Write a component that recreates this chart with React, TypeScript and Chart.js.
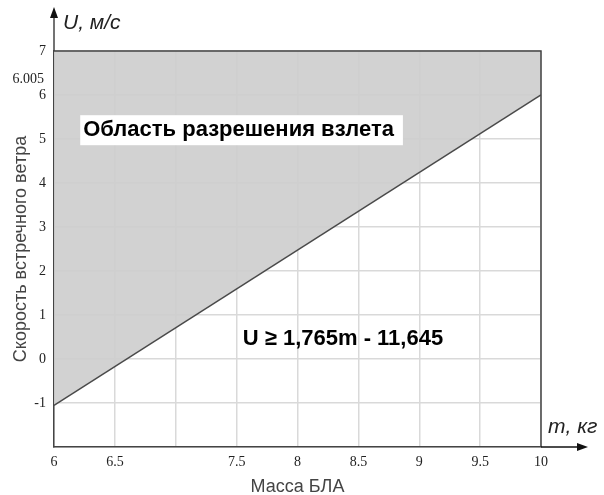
import React, { useEffect, useRef } from "react";
import { Chart, registerables } from "chart.js";

Chart.register(...registerables);

// Data
const massValues = [6, 10];
const windValues = [-1.055, 6.005];
const xHiddenTicks = [7];
const yHiddenTicks = [-2];
const markerLabel = "6.005";
const markerValue = 6.005;
const regionLabel = "Область разрешения взлета";
const formulaLabel = "U \u2265 1,765m - 11,645";
const xAxisTitle = "Масса БЛА";
const yAxisTitle = "Скорость встречного ветра";
const xArrowLabel = "m, кг";
const yArrowLabel = "U, м/с";

const overlay = {
  id: "overlay",
  afterDraw(chart: any) {
    const { ctx, chartArea: a, scales } = chart;
    const xs = scales.x;
    const ys = scales.y;
    ctx.save();
    // top & right border
    ctx.strokeStyle = "#444";
    ctx.lineWidth = 1.5;
    ctx.beginPath();
    ctx.moveTo(a.left, a.top);
    ctx.lineTo(a.right, a.top);
    ctx.lineTo(a.right, a.bottom);
    ctx.stroke();
    // y arrow
    ctx.beginPath();
    ctx.moveTo(a.left, a.top);
    ctx.lineTo(a.left, 14);
    ctx.stroke();
    ctx.fillStyle = "#111";
    ctx.beginPath();
    ctx.moveTo(a.left, 7);
    ctx.lineTo(a.left - 4, 18);
    ctx.lineTo(a.left + 4, 18);
    ctx.closePath();
    ctx.fill();
    // x arrow
    ctx.strokeStyle = "#111";
    ctx.beginPath();
    ctx.moveTo(a.right, a.bottom);
    ctx.lineTo(580, a.bottom);
    ctx.stroke();
    ctx.beginPath();
    ctx.moveTo(588, a.bottom);
    ctx.lineTo(577, a.bottom - 4);
    ctx.lineTo(577, a.bottom + 4);
    ctx.closePath();
    ctx.fill();
    // arrow labels
    ctx.fillStyle = "#222";
    ctx.font = "italic 21px 'Liberation Sans', Arial, sans-serif";
    ctx.textAlign = "left";
    ctx.textBaseline = "alphabetic";
    ctx.fillText(yArrowLabel, a.left + 9, 29);
    ctx.fillText(xArrowLabel, a.right + 7, a.bottom - 14);
    // marker label
    ctx.font = "14px 'Liberation Serif', 'DejaVu Serif', serif";
    ctx.textAlign = "right";
    ctx.textBaseline = "middle";
    ctx.fillStyle = "#222";
    ctx.fillText(markerLabel, a.left - 10, ys.getPixelForValue(markerValue) - 15);
    // region label with white box
    ctx.font = "bold 22px 'Liberation Sans', Arial, sans-serif";
    ctx.textAlign = "left";
    const rx = xs.getPixelForValue(6.24);
    const ry = ys.getPixelForValue(5.2);
    const w = ctx.measureText(regionLabel).width;
    ctx.fillStyle = "#fff";
    ctx.fillRect(rx - 3, ry - 15, w + 12, 30);
    ctx.fillStyle = "#000";
    ctx.fillText(regionLabel, rx, ry);
    // formula
    const fx = xs.getPixelForValue(7.55);
    const fy = ys.getPixelForValue(0.455);
    ctx.fillText(formulaLabel, fx, fy);
    ctx.restore();
  },
};

export default function App() {
  const ref = useRef<HTMLCanvasElement | null>(null);
  useEffect(() => {
    if (!ref.current) return;
    const chart = new Chart(ref.current, {
      type: "line",
      data: {
        datasets: [
          {
            data: massValues.map((m, i) => ({ x: m, y: windValues[i] })),
            borderColor: "#4a4a4a",
            borderWidth: 1.5,
            pointRadius: 0,
            fill: "end",
            backgroundColor: "rgba(205,205,205,0.9)",
          },
        ],
      },
      options: {
        animation: false,
        responsive: false,
        layout: { padding: { left: 0, top: 51, right: 63, bottom: 0 } },
        plugins: { legend: { display: false }, tooltip: { enabled: false } },
        scales: {
          x: {
            type: "linear",
            min: 6,
            max: 10,
            afterFit: (s: any) => {
              s.height = 48;
            },
            ticks: {
              stepSize: 0.5,
              padding: 7,
              color: "#222",
              font: { family: "'Liberation Serif', 'DejaVu Serif', serif", size: 14 },
              maxRotation: 0,
              callback: (v: any) => (xHiddenTicks.includes(Number(v)) ? "" : String(v)),
            },
            grid: { color: "#d9d9d9", lineWidth: 1.5, drawTicks: false },
            border: { display: true, color: "#444", width: 1.5 },
            title: {
              display: true,
              text: xAxisTitle,
              color: "#444",
              font: { family: "'Liberation Sans', Arial, sans-serif", size: 18 },
              padding: { top: 0, bottom: -3 },
            },
          },
          y: {
            type: "linear",
            min: -2,
            max: 7,
            afterFit: (s: any) => {
              s.width = 54;
            },
            ticks: {
              stepSize: 1,
              padding: 8,
              color: "#222",
              font: { family: "'Liberation Serif', 'DejaVu Serif', serif", size: 14 },
              callback: (v: any) => (yHiddenTicks.includes(Number(v)) ? "" : String(v)),
            },
            grid: { color: "#d9d9d9", lineWidth: 1.5, drawTicks: false },
            border: { display: true, color: "#444", width: 1.5 },
            title: {
              display: true,
              text: yAxisTitle,
              color: "#444",
              font: { family: "'Liberation Sans', Arial, sans-serif", size: 18 },
              padding: { top: 10, bottom: 0 },
            },
          },
        },
      },
      plugins: [overlay],
    } as any);
    return () => chart.destroy();
  }, []);
  return (
    <div style={{ position: "fixed", left: 0, top: 0, width: 604, height: 495, background: "#fff" }}>
      <canvas ref={ref} width={604} height={495} />
    </div>
  );
}
